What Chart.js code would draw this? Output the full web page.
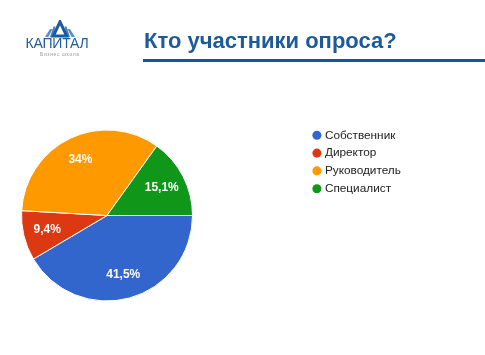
<!DOCTYPE html>
<html>
<head>
<meta charset="utf-8">
<script src="https://cdn.jsdelivr.net/npm/chart.js@4.4.1/dist/chart.umd.min.js"></script>
<style>
  html, body { margin: 0; padding: 0; background: #ffffff; }
  #page { position: relative; width: 485px; height: 355px; overflow: hidden; background: #fff; }
  #c { position: absolute; left: 0; top: 0; }
  .title { position: absolute; left: 144px; top: 29.5px; font: bold 22px "Liberation Sans", Arial, sans-serif; line-height: 22px; color: #1c5a9a; white-space: nowrap; z-index: 2; }
  .rule { position: absolute; left: 143px; top: 58.5px; width: 342px; height: 3.5px; background: #15579b; z-index: 2; }
  .logo-text { position: absolute; left: 25.5px; top: 36.3px; font: 14px "Liberation Sans", Arial, sans-serif; line-height: 14px; color: #1d5c9c; white-space: nowrap; z-index: 2; letter-spacing: -0.2px; }
  .logo-sub { position: absolute; left: 40px; top: 51.5px; font: 5px "Liberation Sans", Arial, sans-serif; line-height: 5px; letter-spacing: 0.6px; color: #9a9a9a; white-space: nowrap; z-index: 2; }
  .logo-icon { position: absolute; left: 42px; top: 20px; z-index: 2; }
</style>
</head>
<body>
<div id="page">
  <canvas id="c" width="485" height="355"></canvas>
  <svg class="logo-icon" width="36" height="18" viewBox="0 0 36 18">
    <polygon points="3,17 8,9 10.5,9 6.5,17" fill="#5b8ec7"/>
    <polygon points="8,17 11.5,6.5 13.5,6.5 11,17" fill="#4a80bf"/>
    <polygon points="33,17 28,9 25.5,9 29.5,17" fill="#5b8ec7"/>
    <polygon points="28,17 24.5,6.5 22.5,6.5 25,17" fill="#4a80bf"/>
    <polygon points="18,1.8 11.3,16 24.7,16" fill="none" stroke="#1d5c9c" stroke-width="3" stroke-linejoin="miter"/>
  </svg>
  <div class="logo-text">КАПИТАЛ</div>
  <div class="logo-sub">Бизнес школа</div>
  <div class="title">Кто участники опроса?</div>
  <div class="rule"></div>
</div>
<script>
// ---- data ----
const categories = ['Собственник', 'Директор', 'Руководитель', 'Специалист'];
const shares = [41.5, 9.4, 34, 15.1];
const sliceColors = ['#3366cc', '#dc3912', '#ff9900', '#109618'];

// ---- layout (not data) ----
const PIE = { cx: 107, cy: 215.5, r: 86 };
const LEGEND_LEFT = 308.8;
const LABEL_RATIO = 0.72;

function pctText(v) { return String(v).replace('.', ',') + '%'; }

Chart.defaults.font.family = '"Liberation Sans", Arial, sans-serif';

const placePlugin = {
  id: 'place',
  afterLayout(chart) {
    chart.chartArea = {
      left: PIE.cx - PIE.r, right: PIE.cx + PIE.r,
      top: PIE.cy - PIE.r, bottom: PIE.cy + PIE.r,
      width: 2 * PIE.r, height: 2 * PIE.r
    };
    const lg = chart.legend;
    if (lg) {
      const w = lg.right - lg.left;
      lg.left = LEGEND_LEFT;
      lg.right = LEGEND_LEFT + w;
    }
  }
};

const sliceLabels = {
  id: 'sliceLabels',
  afterDatasetsDraw(chart) {
    const ctx = chart.ctx;
    const meta = chart.getDatasetMeta(0);
    ctx.save();
    ctx.fillStyle = '#ffffff';
    ctx.font = 'bold 12px "Liberation Sans", Arial, sans-serif';
    ctx.textAlign = 'center';
    ctx.textBaseline = 'middle';
    meta.data.forEach((arc, i) => {
      const p = arc.getProps(['x', 'y', 'startAngle', 'endAngle', 'outerRadius'], true);
      const mid = (p.startAngle + p.endAngle) / 2;
      const d = p.outerRadius * LABEL_RATIO;
      ctx.fillText(pctText(shares[i]), p.x + Math.cos(mid) * d, p.y + Math.sin(mid) * d);
    });
    ctx.restore();
  }
};

new Chart(document.getElementById('c'), {
  type: 'pie',
  data: {
    labels: categories,
    datasets: [{
      data: shares,
      backgroundColor: sliceColors,
      borderColor: '#ffffff',
      borderWidth: 1,
      clip: false
    }]
  },
  options: {
    responsive: false,
    devicePixelRatio: 1,
    animation: false,
    events: [],
    rotation: 90,
    layout: { padding: { top: 123.4, left: 21, right: 20, bottom: 20 } },
    plugins: {
      tooltip: { enabled: false },
      legend: {
        position: 'right',
        align: 'start',
        labels: {
          usePointStyle: true,
          pointStyle: 'circle',
          boxWidth: 4.2,
          boxHeight: 6.4,
          padding: 6,
          color: '#222222',
          font: { size: 11.8 },
          generateLabels(chart) {
            const base = Chart.controllers.pie.overrides.plugins.legend.labels.generateLabels(chart);
            return base.map(it => Object.assign(it, { lineWidth: 0, strokeStyle: 'rgba(0,0,0,0)' }));
          }
        }
      }
    }
  },
  plugins: [placePlugin, sliceLabels]
});
</script>
</body>
</html>
